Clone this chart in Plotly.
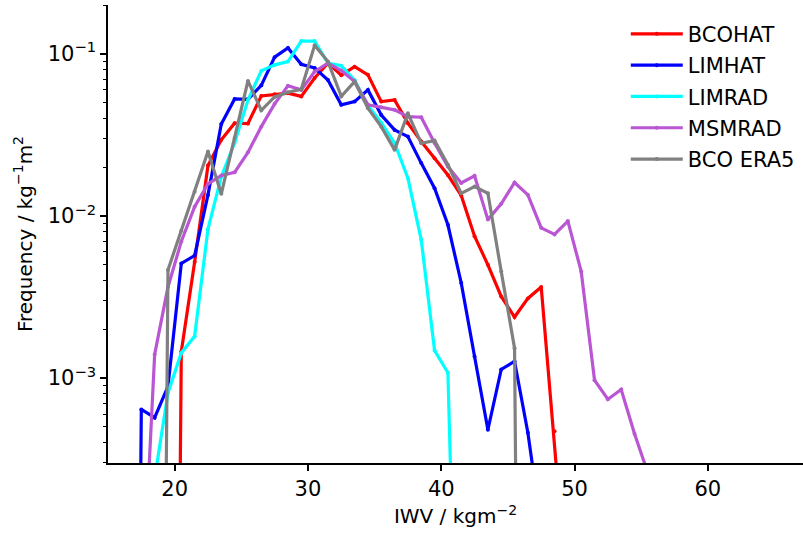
import plotly.graph_objects as go

# IWV bin centres (kg m^-2)
iwv_bins = [16.5, 17.5, 18.5, 19.5, 20.5, 21.5, 22.5, 23.5, 24.5, 25.5,
            26.5, 27.5, 28.5, 29.5, 30.5, 31.5, 32.5, 33.5, 34.5, 35.5,
            36.5, 37.5, 38.5, 39.5, 40.5, 41.5, 42.5, 43.5, 44.5, 45.5,
            46.5, 47.5, 48.5, 49.5, 50.5, 51.5, 52.5, 53.5, 54.5, 55.5,
            56.5]

bcohat = [0, 0, 0, 0, 1.46e-3, 5.2e-3, 0.0205, 0.0295, 0.0374, 0.0372,
          0.0551, 0.0565, 0.0573, 0.0547, 0.0711, 0.0877, 0.0740, 0.0835, 0.0743, 0.0508,
          0.0520, 0.0374, 0.0288, 0.0227, 0.0179, 0.0134, 7.5e-3, 5.0e-3, 3.19e-3, 2.38e-3,
          3.1e-3, 3.65e-3, 4.7e-4, 4e-5, 0, 0, 0, 0, 0, 0,
          0]

limhat = [0, 6.4e-4, 5.7e-4, 8.9e-4, 5.1e-3, 5.7e-3, 0.0135, 0.0370, 0.0528, 0.0525,
          0.0640, 0.0955, 0.1090, 0.0864, 0.0820, 0.0690, 0.0485, 0.0508, 0.0600, 0.0420,
          0.0340, 0.0309, 0.0212, 0.01485, 8.83e-3, 3.86e-3, 1.36e-3, 4.8e-4, 1.13e-3, 1.27e-3,
          4.6e-4, 1.2e-4, 0, 0, 0, 0, 0, 0, 0, 0,
          0]

limrad = [0, 0, 2.4e-4, 8.1e-4, 1.43e-3, 1.81e-3, 8.3e-3, 0.0175, 0.0283, 0.0520,
          0.0786, 0.0856, 0.0897, 0.1200, 0.1200, 0.0877, 0.0847, 0.0690, 0.0480, 0.0376,
          0.0282, 0.0171, 7.13e-3, 1.48e-3, 1.08e-3, 2e-6, 0, 0, 0, 0,
          0, 0, 0, 0, 0, 0, 0, 0, 0, 0,
          0]

msmrad = [0, 3e-5, 1.4e-3, 3.65e-3, 6.97e-3, 0.0114, 0.0158, 0.0178, 0.0186, 0.0247,
          0.0356, 0.0492, 0.0636, 0.0600, 0.0778, 0.0877, 0.0789, 0.0675, 0.0485, 0.0469,
          0.0452, 0.0410, 0.0407, 0.0282, 0.0202, 0.0160, 0.0177, 9.5e-3, 0.0119, 0.0161,
          0.0135, 8.45e-3, 7.7e-3, 9.3e-3, 4.55e-3, 9.7e-4, 7.4e-4, 8.5e-4, 4.54e-4, 2.6e-4,
          0]

bco_era5 = [0, 0, 0, 4.65e-3, 8.1e-3, 0.0141, 0.0250, 0.0137, 0.0303, 0.0682,
            0.0449, 0.0543, 0.0580, 0.0605, 0.1130, 0.0897, 0.0548, 0.0675, 0.0462, 0.0356,
            0.0256, 0.0430, 0.0281, 0.0292, 0.0207, 0.0138, 0.0152, 0.0138, 4.55e-3, 1.53e-3,
            0, 0, 0, 0, 0, 0, 0, 0, 0, 0,
            0]

series_names = ["BCOHAT", "LIMHAT", "LIMRAD", "MSMRAD", "BCO ERA5"]
series_values = [bcohat, limhat, limrad, msmrad, bco_era5]
series_colors = ["#ff0000", "#0000ff", "#00ffff", "#ba55d3", "#808080"]

y_major = [1e-3, 1e-2, 1e-1]
y_major_text = ["10<sup>−3</sup>", "10<sup>−2</sup>", "10<sup>−1</sup>"]
y_minor = [k * 10.0 ** e for e in (-4, -3, -2, -1) for k in range(2, 10)]
x_ticks = [20, 30, 40, 50, 60]

FLOOR = 1e-12  # empty bins, drawn like a clipped log axis
FONT = "DejaVu Sans"

fig = go.Figure()
for name, vals, col in zip(series_names, series_values, series_colors):
    y = [v if v > 0 else FLOOR for v in vals]
    fig.add_trace(go.Scatter(
        x=iwv_bins, y=y, mode="lines+markers", name=name, legendgroup=name,
        line=dict(color=col, width=3.2),
        marker=dict(size=4, color=col),
    ))

fig.update_layout(
    width=803, height=537,
    margin=dict(l=108, r=0, t=5, b=74),
    paper_bgcolor="white", plot_bgcolor="white",
    font=dict(family=FONT, size=21, color="black"),
    xaxis=dict(
        range=[15, 67.14], tickmode="array", tickvals=x_ticks,
        ticks="outside", ticklen=6, tickwidth=1.5, tickcolor="black",
        tickfont=dict(family=FONT, size=21, color="black"),
        showline=True, linewidth=1.5, linecolor="black",
        showgrid=False, zeroline=False, automargin=False,
        title=dict(text="IWV / kgm<sup>−2</sup>", standoff=9,
                   font=dict(family=FONT, size=20, color="black")),
    ),
    yaxis=dict(
        type="log", range=[-3.524, -0.698], tickmode="array",
        tickvals=y_major, ticktext=y_major_text,
        ticks="outside", ticklen=6, tickwidth=1.5, tickcolor="black",
        tickfont=dict(family=FONT, size=21, color="black"),
        minor=dict(tickmode="array", tickvals=y_minor, ticks="outside",
                   ticklen=3.5, tickwidth=1.2, tickcolor="black", showgrid=False),
        showline=True, linewidth=1.5, linecolor="black",
        showgrid=False, zeroline=False, automargin=False,
        title=dict(text="Frequency / kg<sup>−1</sup>m<sup>2</sup>", standoff=10,
                   font=dict(family=FONT, size=20, color="black")),
    ),
    legend=dict(x=0.745, y=0.981, xanchor="left", yanchor="top",
                bgcolor="rgba(0,0,0,0)", tracegroupgap=1, itemwidth=52,
                font=dict(family=FONT, size=21, color="black")),
    showlegend=True,
)

fig.write_html("out.html",
               config={"displayModeBar": False},
               post_script="document.body.style.margin='0px';document.body.style.padding='0px';")
